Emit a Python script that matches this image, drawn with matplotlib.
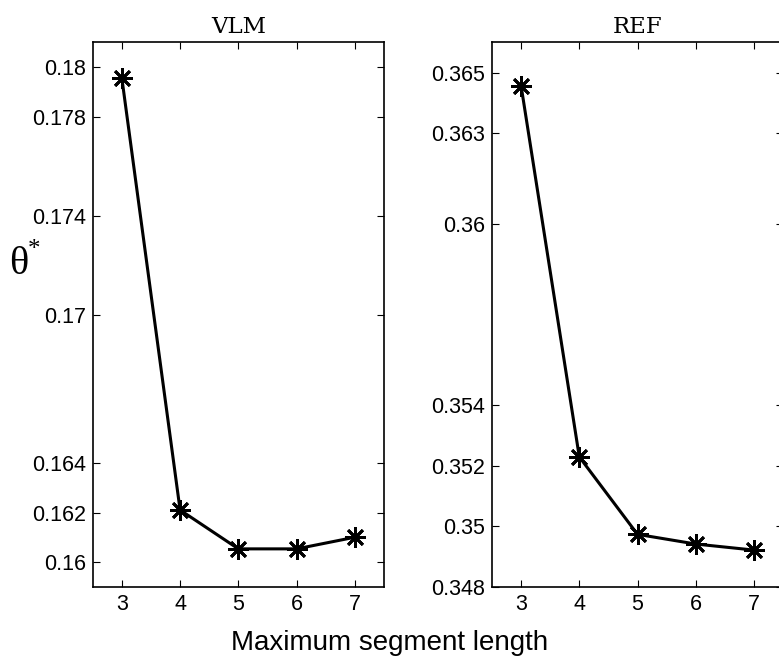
import matplotlib
matplotlib.use("Agg")
import matplotlib.pyplot as plt

x_vals = [3, 4, 5, 6, 7]
vlm_vals = [0.17956, 0.16211, 0.16054, 0.16054, 0.16101]
ref_vals = [0.36456, 0.35230, 0.34974, 0.34942, 0.34922]
vlm_yticks = [0.16, 0.162, 0.164, 0.17, 0.174, 0.178, 0.18]
ref_yticks = [0.348, 0.35, 0.352, 0.354, 0.36, 0.363, 0.365]
vlm_ticklabels = ["0.16", "0.162", "0.164", "0.17", "0.174", "0.178", "0.18"]
ref_ticklabels = ["0.348", "0.35", "0.352", "0.354", "0.36", "0.363", "0.365"]
titles = ["VLM", "REF"]

plt.rcParams['font.family'] = ['Liberation Sans', 'DejaVu Sans']

W, H = 779, 659
fig = plt.figure(figsize=(W / 100, H / 100), dpi=100)

def px_axes(x0, x1, y0, y1):
    return fig.add_axes([x0 / W, 1 - y1 / H, (x1 - x0) / W, (y1 - y0) / H])

ax1 = px_axes(92.7, 384, 42.3, 587)
ax2 = px_axes(492, 783, 42.3, 587)

panels = [
    (ax1, vlm_vals, (0.159, 0.181), vlm_yticks, vlm_ticklabels, titles[0]),
    (ax2, ref_vals, (0.348, 0.366), ref_yticks, ref_ticklabels, titles[1]),
]
for ax, vals, ylim, yt, ytl, title in panels:
    ax.plot(x_vals, vals, color='black', linewidth=2.2,
            marker=(8, 2, 0), markersize=15, markeredgewidth=2.0)
    ax.set_xlim(2.5, 7.5)
    ax.set_ylim(*ylim)
    ax.set_xticks(x_vals)
    ax.set_xticklabels([str(v) for v in x_vals])
    ax.set_yticks(yt)
    ax.set_yticklabels(ytl)
    ax.tick_params(direction='in', top=True, right=True, length=5, width=0.8,
                   labelsize=15.5, pad=5)
    for s in ax.spines.values():
        s.set_linewidth(1.2)
    ax.set_title(title, fontfamily=['DejaVu Serif'], fontsize=16.5, pad=7)

fig.text(390 / W, 1 - 643 / H, "Maximum segment length", ha='center',
         va='center', fontsize=20)
fig.text(19 / W, 1 - 264 / H, "θ", ha='center', va='center',
         fontfamily='Liberation Serif', fontsize=29)
fig.text(34 / W, 1 - 250 / H, "*", ha='center', va='center',
         fontfamily='Liberation Serif', fontsize=18)

fig.savefig("out.png", dpi=100)
